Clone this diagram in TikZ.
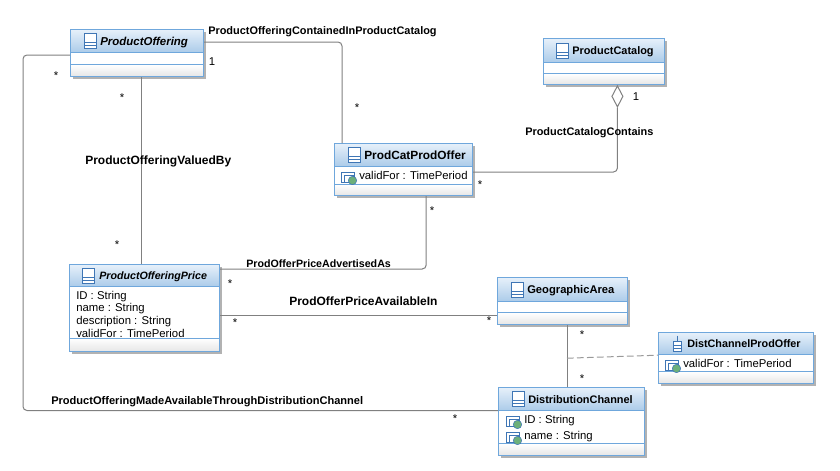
\documentclass[tikz,border=0pt]{standalone}
\usepackage{fontspec}
\setmainfont{Liberation Sans}
\usetikzlibrary{positioning,shadows,shapes.geometric}

\definecolor{umlblue}{HTML}{6FA7DC}
\definecolor{umltop}{HTML}{E6F0FA}
\definecolor{umlbot}{HTML}{ABCBE9}
\definecolor{umlline}{HTML}{808080}
\definecolor{umlicon}{HTML}{3F76B5}
\definecolor{umlgreen}{HTML}{6DB07A}

\begin{document}
\begin{tikzpicture}[
x=0.75pt,
y=-0.75pt,
umlbox/.style={
  draw=umlblue,
  fill=white,
  line width=0.9pt,
  inner sep=0pt,
  anchor=north west,
  drop shadow={shadow xshift=1.5pt,shadow yshift=-1.5pt,opacity=0.3,fill=black}
  },
umlhead/.style={
  draw=umlblue,
  line width=0.9pt,
  top color=umltop,
  bottom color=umlbot,
  inner sep=0pt,
  anchor=north west
  },
umlfoot/.style={
  draw=umlblue,
  line width=0.9pt,
  top color=white,
  bottom color=black!10,
  inner sep=0pt,
  anchor=south west
  },
umltitle/.style={
  font=\fontsize{#1}{10pt}\selectfont\bfseries,
  inner sep=0pt,
  anchor=base west
  },
umlabstract/.style={
  font=\fontsize{#1}{10pt}\selectfont\bfseries\itshape,
  inner sep=0pt,
  anchor=base west
  },
umlattr/.style={
  font=\fontsize{8.5pt}{10pt}\selectfont,
  inner sep=0pt,
  anchor=base west
  },
assoc/.style={
  draw=umlline,
  line width=0.75pt,
  rounded corners=3pt
  },
linklabel/.style={
  font=\fontsize{#1}{10pt}\selectfont\bfseries,
  inner sep=0pt,
  anchor=base west
  },
mult/.style={
  font=\fontsize{8.5pt}{10pt}\selectfont,
  inner sep=0pt
  },
classicon/.pic={
  \draw[umlicon,line width=0.6pt,fill=white] (-6,-7.5) rectangle (6,7.5);
  \draw[umlicon,line width=0.6pt] (-6,1.5) -- (6,1.5) (-6,4.5) -- (6,4.5);
  },
linkicon/.pic={
  \draw[umlicon,line width=0.6pt,fill=white] (-4,-2) rectangle (4,8);
  \draw[umlicon,line width=0.6pt] (-4,2) -- (4,2) (-4,5) -- (4,5) (0,-8) -- (0,-2);
  },
attricon/.pic={
  \draw[umlicon,line width=0.6pt,fill=white] (-7,-5) rectangle (6,5);
  \draw[umlicon,line width=0.6pt] (-4,-2) rectangle (5,5);
  \draw[umlicon,line width=0.4pt,fill=umlgreen] (4.5,3.5) circle (4.2);
  }
]
\useasboundingbox[fill=white] (0,0) rectangle (840,471);

% classes: name / left / top / width / height / header / footer
\foreach \nm/\xa/\ya/\wb/\hb/\hh/\hf in {
  po/70/29/133/47/23/12,
  pc/543/38/121/46/24/11,
  pcpo/334/143/138/52/23/11,
  pop/69/264/150/87/22/13,
  ga/497/277/130/47/24/12,
  dcpo/658/332/155/51/22/12,
  dc/498/387/146/68/23/12}
{
  \node[umlbox,minimum width=\wb*0.75pt,minimum height=\hb*0.75pt] (\nm) at (\xa,\ya) {};
  \node[umlhead,minimum width=\wb*0.75pt,minimum height=\hh*0.75pt] (\nm-head) at (\nm.north west) {};
  \node[umlfoot,minimum width=\wb*0.75pt,minimum height=\hf*0.75pt] (\nm-foot) at (\nm.south west) {};
}

% titles
\pic at ([shift={(20,0)}]po-head.west) {classicon};
\node[umlabstract=8.6pt] (po-name) at ([shift={(30,4)}]po-head.west) {ProductOffering};
\pic at ([shift={(19,0)}]pc-head.west) {classicon};
\node[umltitle=8.2pt] (pc-name) at ([shift={(29,4)}]pc-head.west) {ProductCatalog};
\pic at ([shift={(20,0)}]pcpo-head.west) {classicon};
\node[umltitle=8.9pt] (pcpo-name) at ([shift={(30,4)}]pcpo-head.west) {ProdCatProdOffer};
\pic at ([shift={(19.5,0)}]pop-head.west) {classicon};
\node[umlabstract=8pt] (pop-name) at ([shift={(30,4)}]pop-head.west) {ProductOfferingPrice};
\pic at ([shift={(20,0)}]ga-head.west) {classicon};
\node[umltitle=8.4pt] (ga-name) at ([shift={(30,4)}]ga-head.west) {GeographicArea};
\pic at ([shift={(19,0)}]dcpo-head.west) {linkicon};
\node[umltitle=8.1pt] (dcpo-name) at ([shift={(29,4)}]dcpo-head.west) {DistChannelProdOffer};
\pic at ([shift={(20,0)}]dc-head.west) {classicon};
\node[umltitle=8.2pt] (dc-name) at ([shift={(30,4)}]dc-head.west) {DistributionChannel};

% attributes
\node[umlattr] (pcpo-a1) at (359,179) {validFor : TimePeriod};
\pic at (348,177) {attricon};
\foreach \ai/\ay/\at in {1/299/ID : String,2/311.5/name : String,3/324/description : String,4/337/validFor : TimePeriod}
  \node[umlattr] (pop-a\ai) at (76,\ay) {\at};
\node[umlattr] (dcpo-a1) at (683,367) {validFor : TimePeriod};
\pic at (672,365) {attricon};
\foreach \ai/\ay/\at in {1/423/ID : String,2/439/name : String}
{
  \node[umlattr] (dc-a\ai) at (524,\ay) {\at};
  \pic at (513,\ay-2) {attricon};
}

% connectors
\node[draw=umlline,fill=white,line width=0.75pt,diamond,inner sep=0pt,minimum width=8.5pt,minimum height=16pt,below=0pt of pc.south,xshift=10pt] (pc-dia) {};
\draw[assoc] ([shift={(0,13)}]po.north east) -| ([shift={(8,0)}]pcpo.north west);
\draw[assoc] ([shift={(-3,0)}]po.south -| pop.north) -- ([shift={(-3,0)}]pop.north);
\draw[assoc] ([shift={(0,26)}]po.north west) -| ([shift={(-47,23)}]po.south west) |- ([shift={(0,23.5)}]dc.north west);
\draw[assoc] (pc-dia.south) |- ([shift={(0,29)}]pcpo.north east);
\draw[assoc] ([shift={(-47,0)}]pcpo.south east) |- ([shift={(0,5)}]pop.north east);
\draw[assoc] ([shift={(0,51.5)}]pop.north east) -- ([shift={(0,38.5)}]ga.north west);
\draw[assoc] ([shift={(70.5,0)}]ga.south west) -- ([shift={(69.5,0)}]dc.north west);
\draw[assoc,dash pattern=on 5pt off 2.5pt,draw=black!40] ([shift={(70,33)}]ga.south west) -- (dcpo.west |- dcpo-head.south);

% association names
\node[linklabel=8.2pt] (l-contained) at (208,35) {ProductOfferingContainedInProductCatalog};
\node[linklabel=9pt] (l-valued) at (85,164) {ProductOfferingValuedBy};
\node[linklabel=8.2pt] (l-contains) at (525,135) {ProductCatalogContains};
\node[linklabel=8pt] (l-advert) at (246,267) {ProdOfferPriceAdvertisedAs};
\node[linklabel=9pt] (l-avail) at (289,305) {ProdOfferPriceAvailableIn};
\node[linklabel=8.3pt] (l-made) at (51,404) {ProductOfferingMadeAvailableThroughDistributionChannel};

% multiplicities
\foreach \mx/\my/\mt in {212/62/1,636/97/1,357/108/*,56/76/*,122/98/*,117/245/*,480/185/*,432/211/*,230/284/*,235/323/*,489/321/*,582/335/*,582/379/*,455/419/*}
  \node[mult] at (\mx,\my) {\mt};
\end{tikzpicture}
\end{document}
